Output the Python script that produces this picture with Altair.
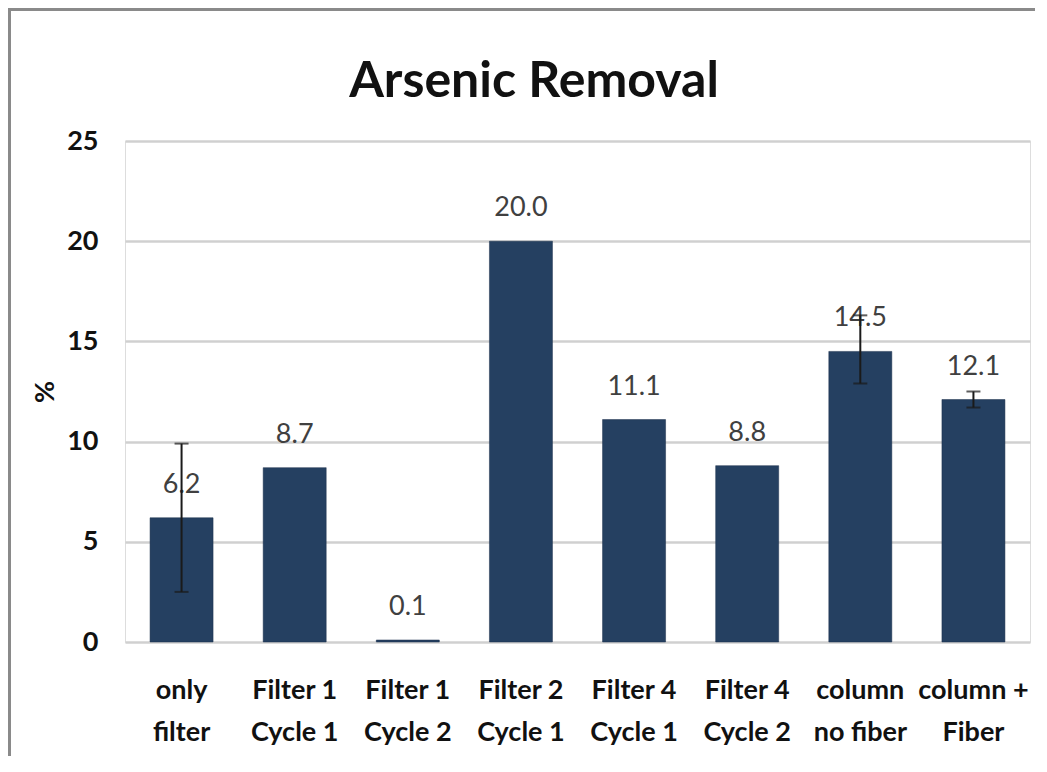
import altair as alt
import pandas as pd

title_text = "Arsenic Removal"
categories = ["only\nfilter", "Filter 1\nCycle 1", "Filter 1\nCycle 2", "Filter 2\nCycle 1",
              "Filter 4\nCycle 1", "Filter 4\nCycle 2", "column\nno fiber", "column +\nFiber"]
values = [6.2, 8.7, 0.1, 20.0, 11.1, 8.8, 14.5, 12.1]
err_low = [2.5, None, None, None, None, None, 12.9, 11.7]
err_high = [9.9, None, None, None, None, None, 16.3, 12.5]
y_ticks = [0, 5, 10, 15, 20, 25]

FONT = "Lato"
BAR = "#254061"
INK = "#111111"

df = pd.DataFrame({"cat": categories, "val": values, "lo": err_low, "hi": err_high})
df["label"] = [f"{v:.1f}" for v in values]

x = alt.X("cat:N", sort=None, title=None,
          scale=alt.Scale(paddingInner=0.443, paddingOuter=0.2215),
          axis=alt.Axis(labelExpr="split(datum.label, '\\n')", labelAngle=0,
                        labelFont=FONT, labelFontSize=27, labelFontWeight="bold",
                        labelColor=INK, labelLineHeight=42, labelPadding=35,
                        ticks=False, domain=False, grid=False))
y = alt.Y("val:Q", title="%",
          scale=alt.Scale(domain=[0, 25], nice=False),
          axis=alt.Axis(values=y_ticks, labelFont=FONT, labelFontSize=27, labelFontWeight="bold",
                        labelColor=INK, labelPadding=27, ticks=False, domain=False,
                        grid=True, gridColor="#d0d0d0", gridWidth=2.5,
                        titleFont=FONT, titleFontSize=27, titleFontWeight="bold",
                        titleColor=INK, titlePadding=7, titleAngle=-90))

base = alt.Chart(df)
bars = base.mark_bar(color=BAR, stroke="#1a2f4a", strokeWidth=0.5).encode(x=x, y=y)
labels = base.mark_text(font=FONT, fontSize=27, color="#404040", baseline="alphabetic", dy=-25).encode(
    x=alt.X("cat:N", sort=None), y="val:Q", text="label:N")
err = base.transform_filter("isValid(datum.lo)")
err_rule = err.mark_rule(color="#1a1a1a", strokeWidth=2).encode(
    x=alt.X("cat:N", sort=None), y="lo:Q", y2="hi:Q")
cap_lo = err.mark_tick(color="#1a1a1a", thickness=2, size=14, orient="horizontal").encode(
    x=alt.X("cat:N", sort=None), y="lo:Q")
cap_hi = err.mark_tick(color="#1a1a1a", thickness=2, size=14, orient="horizontal").encode(
    x=alt.X("cat:N", sort=None), y="hi:Q")

title_df = pd.DataFrame({"t": [title_text]})
title = alt.Chart(title_df).mark_text(font=FONT, fontSize=50, fontWeight="bold", color=INK,
                                      align="center", baseline="alphabetic").encode(
    text="t:N", x=alt.value(409), y=alt.value(-44))

frame_top = alt.Chart(pd.DataFrame({"a": [0]})).mark_rect(color="#8a8a8a").encode(
    x=alt.value(-117), x2=alt.value(910), y=alt.value(-133), y2=alt.value(-130))
frame_left = alt.Chart(pd.DataFrame({"b": [0]})).mark_rect(color="#8a8a8a").encode(
    x=alt.value(-117), x2=alt.value(-114), y=alt.value(-133), y2=alt.value(615))

chart = alt.layer(bars, labels, err_rule, cap_lo, cap_hi, title, frame_top, frame_left).properties(
    width=905, height=501,
    padding=0,
).configure_view(strokeWidth=0).configure(background="white")

chart.save("out.html", embed_options={"renderer": "svg", "actions": False})
